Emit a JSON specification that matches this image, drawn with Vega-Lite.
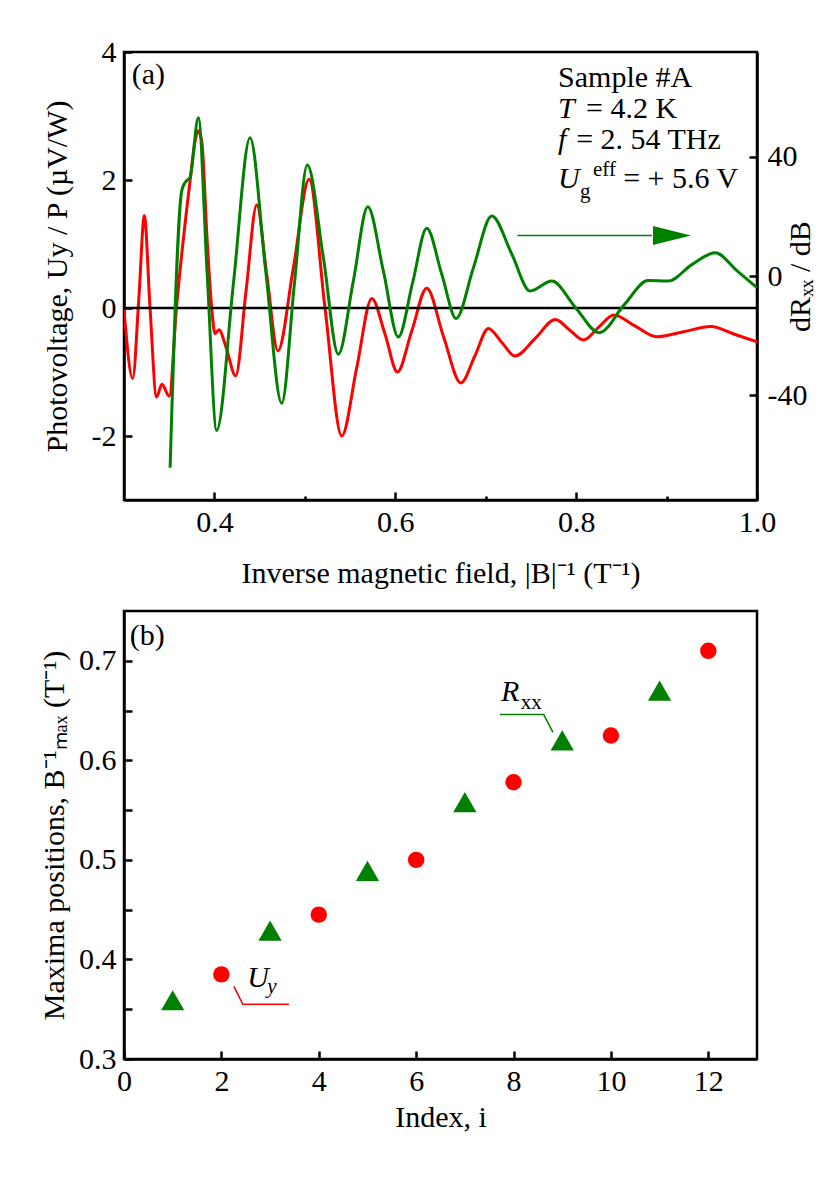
{
  "$schema": "https://vega.github.io/schema/vega-lite/v6.json",
  "background": "white",
  "padding": {"left": 38, "top": 35, "right": 0, "bottom": 0},
  "spacing": 19,
  "config": {
    "font": "Liberation Serif",
    "view": {"stroke": "black", "strokeWidth": 2.5},
    "axis": {
      "domainColor": "black", "domainWidth": 2.5,
      "tickColor": "black", "tickWidth": 2.5, "tickSize": -8,
      "labelFont": "Liberation Serif", "labelFontSize": 30, "labelColor": "black", "labelPadding": 15,
      "titleFont": "Liberation Serif", "titleFontSize": 30, "titleFontWeight": "normal", "titleColor": "black",
      "grid": false, "labelFlush": false, "labelOverlap": false, "titlePadding": 17
    },
    "axisLeft": {"labelPadding": 16},
    "axisRight": {"labelPadding": 18}
  },
  "datasets": {
    "red": [
      {"B":0.300,"U":-0.02},{"B":0.3096,"U":-1.10},{"B":0.3165,"U":0.17},{"B":0.3225,"U":1.44},{"B":0.3288,"U":0.0},
      {"B":0.336,"U":-1.39},{"B":0.342,"U":-1.19},{"B":0.350,"U":-1.38},{"B":0.358,"U":0.0},{"B":0.373,"U":1.98},
      {"B":0.3785,"U":2.6},{"B":0.382,"U":2.77},{"B":0.386,"U":2.6},{"B":0.392,"U":1.05},{"B":0.397,"U":0.0},
      {"B":0.4007,"U":-0.40},{"B":0.405,"U":-0.34},{"B":0.413,"U":-0.62},{"B":0.4235,"U":-1.06},{"B":0.435,"U":0.27},
      {"B":0.4468,"U":1.61},{"B":0.4578,"U":0.53},{"B":0.4702,"U":-0.67},{"B":0.4873,"U":0.63},{"B":0.5047,"U":2.01},
      {"B":0.5223,"U":0.0},{"B":0.5408,"U":-2.0},{"B":0.5574,"U":-0.93},{"B":0.574,"U":0.15},{"B":0.5887,"U":-0.41},
      {"B":0.6023,"U":-1.0},{"B":0.6182,"U":-0.36},{"B":0.6348,"U":0.31},{"B":0.6532,"U":-0.44},{"B":0.6725,"U":-1.17},
      {"B":0.688,"U":-0.75},{"B":0.703,"U":-0.32},{"B":0.7178,"U":-0.54},{"B":0.7325,"U":-0.75},{"B":0.755,"U":-0.47},
      {"B":0.777,"U":-0.18},{"B":0.7925,"U":-0.34},{"B":0.808,"U":-0.50},{"B":0.825,"U":-0.30},{"B":0.8416,"U":-0.11},
      {"B":0.865,"U":-0.28},{"B":0.889,"U":-0.45},{"B":0.919,"U":-0.37},{"B":0.9489,"U":-0.29},{"B":0.975,"U":-0.41},
      {"B":1.0,"U":-0.53}
    ],
    "green": [
      {"B":0.351,"R":-64.2},{"B":0.3638,"R":28.5},{"B":0.368,"R":31.5},{"B":0.373,"R":33.0},{"B":0.3822,"R":53.0},
      {"B":0.392,"R":0.6},{"B":0.4025,"R":-51.7},{"B":0.4209,"R":-2.8},{"B":0.4394,"R":46.3},{"B":0.4567,"R":1.7},
      {"B":0.4744,"R":-42.6},{"B":0.4884,"R":-2.8},{"B":0.5027,"R":37.2},{"B":0.5205,"R":6.1},{"B":0.537,"R":-26.2},
      {"B":0.5536,"R":-1.7},{"B":0.5696,"R":23.2},{"B":0.5868,"R":1.7},{"B":0.6034,"R":-20.4},{"B":0.6192,"R":-2.2},
      {"B":0.6348,"R":16.0},{"B":0.6514,"R":0.6},{"B":0.6673,"R":-14.2},{"B":0.6864,"R":2.8},{"B":0.7067,"R":20.1},
      {"B":0.7289,"R":7.3},{"B":0.749,"R":-5.0},{"B":0.773,"R":-1.7},{"B":0.7994,"R":-10.6},{"B":0.8254,"R":-19.0},
      {"B":0.8535,"R":-9.5},{"B":0.8795,"R":-1.5},{"B":0.9017,"R":-1.7},{"B":0.9283,"R":3.9},{"B":0.9538,"R":7.8},
      {"B":0.978,"R":1.7},{"B":1.0,"R":-3.9}
    ],
    "uy": [{"i":2,"B":0.385},{"i":4,"B":0.445},{"i":6,"B":0.500},{"i":8,"B":0.578},{"i":10,"B":0.625},{"i":12,"B":0.710}],
    "rxx": [{"i":1,"B":0.359},{"i":3,"B":0.429},{"i":5,"B":0.489},{"i":7,"B":0.558},{"i":9,"B":0.620},{"i":11,"B":0.670}]
  },
  "vconcat": [
    {
      "width": 633, "height": 448,
      "resolve": {"scale": {"y": "independent"}},
      "layer": [
        {
          "layer": [
            {
              "data": {"name": "red"},
              "mark": {"type": "line", "color": "#ff0000", "strokeWidth": 3, "interpolate": "monotone", "clip": true},
              "encoding": {
                "x": {"field": "B", "type": "quantitative",
                  "scale": {"domain": [0.3, 1.0], "nice": false, "zero": false},
                  "axis": {"title": "Inverse magnetic field, |B|⁻¹ (T⁻¹)", "values": [0.4,0.5,0.6,0.7,0.8,0.9,1.0],
                    "labelExpr": "round(datum.value*10) % 2 == 0 ? format(datum.value, '.1f') : ''",
                    "tickSize": {"condition": {"test": "round(datum.value*10) % 2 == 1", "value": -4}, "value": -8}}},
                "y": {"field": "U", "type": "quantitative",
                  "scale": {"domain": [-3, 4], "nice": false, "zero": false},
                  "axis": {"title": "Photovoltage, Uy / P (µV/W)", "values": [-2, 0, 2, 4], "labelExpr": "datum.value + ''", "orient": "left", "titlePadding": 19}}
              }
            },
            {
              "data": {"values": [{"U": 0}]},
              "mark": {"type": "rule", "color": "black", "strokeWidth": 2.5},
              "encoding": {"y": {"field": "U", "type": "quantitative"}}
            },
            {
              "data": {"values": [{"B": 0.735, "B2": 0.884, "U": 1.133}]},
              "mark": {"type": "rule", "color": "#008000", "strokeWidth": 1.5},
              "encoding": {
                "x": {"field": "B", "type": "quantitative"},
                "x2": {"field": "B2"},
                "y": {"field": "U", "type": "quantitative"}
              }
            },
            {
              "data": {"values": [{"B": 0.906, "U": 1.133}]},
              "mark": {"type": "point", "shape": "M-1,-0.5L1,0L-1,0.5Z", "filled": true, "color": "#008000", "opacity": 1, "size": 1444},
              "encoding": {
                "x": {"field": "B", "type": "quantitative"},
                "y": {"field": "U", "type": "quantitative"}
              }
            },
            {
              "data": {"values": [
                {"B": 0.780, "U": 3.453, "t": "Sample #A"},
                {"B": 0.811, "U": 2.964, "t": "= 4.2 K"},
                {"B": 0.800, "U": 2.48, "t": "= 2. 54 THz"},
                {"B": 0.852, "U": 1.88, "t": "= + 5.6 V"},
                {"B": 0.3085, "U": 3.495, "t": "(a)"}
              ]},
              "mark": {"type": "text", "font": "Liberation Serif", "fontSize": 30, "align": "left", "baseline": "alphabetic", "color": "black"},
              "encoding": {
                "x": {"field": "B", "type": "quantitative"},
                "y": {"field": "U", "type": "quantitative"},
                "text": {"field": "t"}
              }
            },
            {
              "data": {"values": [
                {"B": 0.780, "U": 2.964, "t": "T"},
                {"B": 0.780, "U": 2.48, "t": "f"},
                {"B": 0.780, "U": 1.88, "t": "U"}
              ]},
              "mark": {"type": "text", "font": "Liberation Serif", "fontStyle": "italic", "fontSize": 30, "align": "left", "baseline": "alphabetic", "color": "black"},
              "encoding": {
                "x": {"field": "B", "type": "quantitative"},
                "y": {"field": "U", "type": "quantitative"},
                "text": {"field": "t"}
              }
            },
            {
              "data": {"values": [
                {"B": 0.8043, "U": 1.724, "t": "g"},
                {"B": 0.8187, "U": 2.0675, "t": "eff"}
              ]},
              "mark": {"type": "text", "font": "Liberation Serif", "fontSize": 21, "align": "left", "baseline": "alphabetic", "color": "black"},
              "encoding": {
                "x": {"field": "B", "type": "quantitative"},
                "y": {"field": "U", "type": "quantitative"},
                "text": {"field": "t"}
              }
            }
          ]
        },
        {
          "data": {"name": "green"},
          "mark": {"type": "line", "color": "#008000", "strokeWidth": 3, "interpolate": "monotone", "clip": true},
          "encoding": {
            "x": {"field": "B", "type": "quantitative"},
            "y": {"field": "R", "type": "quantitative",
              "scale": {"domain": [-75, 75], "nice": false, "zero": false},
              "axis": {"orient": "right", "title": "dRₓₓ / dB", "titleAngle": 270, "titleBaseline": "top", "values": [-40, 0, 40], "labelExpr": "datum.value + ''", "titlePadding": -21}}
          }
        }
      ]
    },
    {
      "width": 633, "height": 448,
      "layer": [
        {
          "data": {"values": [{"i": 2.257, "B": 0.373}, {"i": 2.44, "B": 0.355}, {"i": 3.387, "B": 0.355}]},
          "mark": {"type": "line", "color": "#ff0000", "strokeWidth": 1.5},
          "encoding": {
            "x": {"field": "i", "type": "quantitative",
              "scale": {"domain": [0, 13], "nice": false, "zero": false},
              "axis": {"title": "Index, i", "values": [0, 2, 4, 6, 8, 10, 12], "titlePadding": 6}},
            "y": {"field": "B", "type": "quantitative",
              "scale": {"domain": [0.3, 0.75], "nice": false, "zero": false},
              "axis": {"title": "Maxima positions, B⁻¹ₘₐₓ (T⁻¹)", "values": [0.3,0.35,0.4,0.45,0.5,0.55,0.6,0.65,0.7],
                "labelExpr": "round(datum.value*100) % 10 == 0 ? format(datum.value, '.1f') : ''", "titlePadding": 9}}
          }
        },
        {
          "data": {"values": [{"i": 7.72, "B": 0.646}, {"i": 8.62, "B": 0.646}, {"i": 8.81, "B": 0.628}]},
          "mark": {"type": "line", "color": "#008000", "strokeWidth": 1.5},
          "encoding": {
            "x": {"field": "i", "type": "quantitative"},
            "y": {"field": "B", "type": "quantitative"}
          }
        },
        {
          "data": {"name": "uy"},
          "mark": {"type": "point", "shape": "circle", "filled": true, "color": "#ff0000", "opacity": 1, "size": 270},
          "encoding": {
            "x": {"field": "i", "type": "quantitative"},
            "y": {"field": "B", "type": "quantitative"}
          }
        },
        {
          "data": {"name": "rxx"},
          "mark": {"type": "point", "shape": "triangle-up", "filled": true, "color": "#008000", "opacity": 1, "size": 540},
          "encoding": {
            "x": {"field": "i", "type": "quantitative"},
            "y": {"field": "B", "type": "quantitative"}
          }
        },
        {
          "data": {"values": [{"i": 0.12, "B": 0.7158, "t": "(b)"}]},
          "mark": {"type": "text", "font": "Liberation Serif", "fontSize": 30, "align": "left", "baseline": "alphabetic", "color": "black"},
          "encoding": {
            "x": {"field": "i", "type": "quantitative"},
            "y": {"field": "B", "type": "quantitative"},
            "text": {"field": "t"}
          }
        },
        {
          "data": {"values": [{"i": 2.53, "B": 0.372, "t": "U"}, {"i": 7.74, "B": 0.66, "t": "R"}]},
          "mark": {"type": "text", "font": "Liberation Serif", "fontStyle": "italic", "fontSize": 30, "align": "left", "baseline": "alphabetic", "color": "black"},
          "encoding": {
            "x": {"field": "i", "type": "quantitative"},
            "y": {"field": "B", "type": "quantitative"},
            "text": {"field": "t"}
          }
        },
        {
          "data": {"values": [{"i": 2.94, "B": 0.366, "t": "y"}]},
          "mark": {"type": "text", "font": "Liberation Serif", "fontStyle": "italic", "fontSize": 21, "align": "left", "baseline": "alphabetic", "color": "black"},
          "encoding": {
            "x": {"field": "i", "type": "quantitative"},
            "y": {"field": "B", "type": "quantitative"},
            "text": {"field": "t"}
          }
        },
        {
          "data": {"values": [{"i": 8.15, "B": 0.652, "t": "xx"}]},
          "mark": {"type": "text", "font": "Liberation Serif", "fontSize": 21, "align": "left", "baseline": "alphabetic", "color": "black"},
          "encoding": {
            "x": {"field": "i", "type": "quantitative"},
            "y": {"field": "B", "type": "quantitative"},
            "text": {"field": "t"}
          }
        }
      ]
    }
  ]
}
